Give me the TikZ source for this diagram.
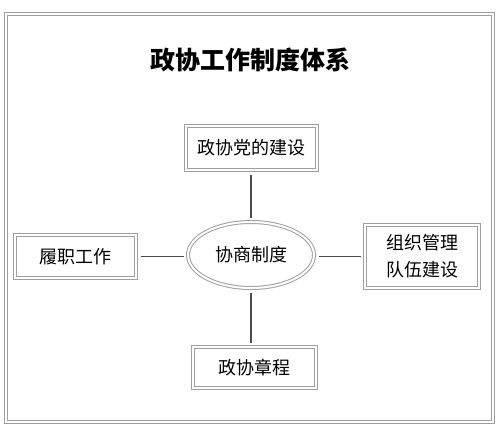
\documentclass[tikz,border=0pt]{standalone}
\usepackage{fontspec}
\setmainfont{Noto Sans CJK SC}
\usetikzlibrary{shapes.geometric,positioning}

\begin{document}
\begin{tikzpicture}[x=1pt,y=-1pt,
  frame/.style={draw=gray!75,double=white,double distance=2pt,line width=1pt},
  item/.style={frame,rectangle,align=center,inner sep=0pt,font=\fontsize{18}{27}\selectfont},
  link/.style={draw=black!70,line width=1.1pt,shorten <=4pt,shorten >=4pt}]
  \useasboundingbox (0,0) rectangle (500,429);
  \draw[frame] (5.5,13.5) rectangle (492.5,421.5);
  \node[font=\bfseries\fontsize{25}{25}\selectfont] (title) at (250,60) {政协工作制度体系};
  \node[frame,ellipse,inner sep=0pt,minimum width=126pt,minimum height=66pt,font=\fontsize{18}{18}\selectfont] (center) at (251,255) {协商制度};
  \node[item,minimum width=131pt,minimum height=44pt] (top) at (251,148) {政协党的建设};
  \node[item,minimum width=121pt,minimum height=43pt] (left) at (75.5,256.5) {履职工作};
  \node[item,minimum width=114pt,minimum height=63pt] (right) at (422,256.5) {组织管理\\队伍建设};
  \node[item,minimum width=123pt,minimum height=41pt] (bottom) at (254.5,367.5) {政协章程};
  \draw[link] (top) -- (center);
  \draw[link] (center) -- (center |- bottom.north);
  \draw[link] (left.east) -- (left.east -| center.west);
  \draw[link] (center.east |- right.west) -- (right.west);
\end{tikzpicture}
\end{document}
